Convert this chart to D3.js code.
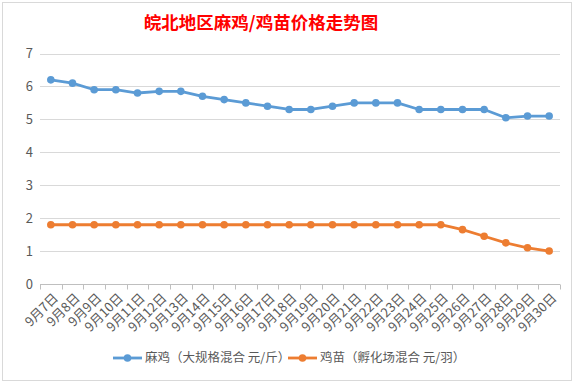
<!DOCTYPE html>
<html>
<head>
<meta charset="utf-8">
<script src="https://cdn.jsdelivr.net/npm/d3@7"></script>
<style>
  body { margin: 0; background: #fff; }
  svg { display: block; font-family: "Noto Sans CJK SC", "Noto Sans", sans-serif; }
</style>
</head>
<body>
<svg width="577" height="384"></svg>
<script>
const days = ["9月7日", "9月8日", "9月9日", "9月10日", "9月11日", "9月12日", "9月13日", "9月14日",
    "9月15日", "9月16日", "9月17日", "9月18日", "9月19日", "9月20日", "9月21日", "9月22日",
    "9月23日", "9月24日", "9月25日", "9月26日", "9月27日", "9月28日", "9月29日", "9月30日"];
const maji = [6.2, 6.1, 5.9, 5.9, 5.8, 5.85, 5.85, 5.7, 5.6, 5.5, 5.4, 5.3, 5.3, 5.4, 5.5, 5.5,
    5.5, 5.3, 5.3, 5.3, 5.3, 5.05, 5.1, 5.1];
const jimiao = [1.8, 1.8, 1.8, 1.8, 1.8, 1.8, 1.8, 1.8, 1.8, 1.8, 1.8, 1.8, 1.8, 1.8, 1.8, 1.8,
    1.8, 1.8, 1.8, 1.65, 1.45, 1.25, 1.1, 1.0];
const yTicks = [0, 1, 2, 3, 4, 5, 6, 7];
const seriesNames = ["麻鸡（大规格混合 元/斤）", "鸡苗（孵化场混合 元/羽）"];
const colors = ["#5B9BD5", "#ED7D31"];

const svg = d3.select("svg");

// chart border
svg.append("rect")
    .attr("x", 2.5).attr("y", 2.5)
    .attr("width", 569).attr("height", 378)
    .attr("fill", "#fff")
    .attr("stroke", "#D9D9D9");

svg.append("text")
    .attr("x", 261).attr("y", 29)
    .attr("text-anchor", "middle")
    .attr("fill", "#FF0000")
    .attr("font-size", 17.5)
    .attr("font-weight", "bold")
    .text("皖北地区麻鸡/鸡苗价格走势图");

const x = d3.scaleBand().domain(days).range([40, 560]);
const y = d3.scaleLinear().domain([0, 7]).range([284, 53.5]);

// gridlines
svg.append("g").selectAll("line")
    .data(yTicks.slice(1))
    .enter().append("line")
    .attr("x1", 40).attr("x2", 560)
    .attr("y1", function (d) { return Math.round(y(d)) + 0.5; })
    .attr("y2", function (d) { return Math.round(y(d)) + 0.5; })
    .attr("stroke", "#D9D9D9");

// y labels
svg.append("g").selectAll("text")
    .data(yTicks)
    .enter().append("text")
    .attr("x", 33)
    .attr("y", function (d) { return y(d); })
    .attr("dy", "0.35em")
    .attr("text-anchor", "end")
    .attr("fill", "#595959")
    .attr("font-size", 13)
    .text(function (d) { return d; });

// x axis
const xAxis = svg.append("g")
    .attr("transform", "translate(0," + (Math.round(y(0)) + 0.5) + ")");
xAxis.append("line")
    .attr("x1", 40).attr("x2", 560)
    .attr("stroke", "#BFBFBF");
xAxis.selectAll(".tk")
    .data(days.map(function (d) { return x(d); }).concat([560]))
    .enter().append("line")
    .attr("x1", function (d) { return Math.round(d) + 0.5; })
    .attr("x2", function (d) { return Math.round(d) + 0.5; })
    .attr("y1", 0).attr("y2", 5)
    .attr("stroke", "#BFBFBF");
xAxis.selectAll("text")
    .data(days)
    .enter().append("text")
    .attr("transform", function (d) {
        return "translate(" + (x(d) + x.bandwidth() / 2 + 5) + ",11) rotate(-45)";
    })
    .attr("text-anchor", "end")
    .attr("dy", "0.35em")
    .attr("fill", "#595959")
    .attr("font-size", 13)
    .text(function (d) { return d; });

// series
const series = [maji, jimiao];
const line = d3.line()
    .x(function (d, i) { return x(days[i]) + x.bandwidth() / 2; })
    .y(function (d) { return y(d); });

series.forEach(function (vals, k) {
    svg.append("path")
        .datum(vals)
        .attr("d", line)
        .attr("fill", "none")
        .attr("stroke", colors[k])
        .attr("stroke-width", 2.8)
        .attr("stroke-linejoin", "round");
    svg.append("g").selectAll("circle")
        .data(vals)
        .enter().append("circle")
        .attr("cx", function (d, i) { return x(days[i]) + x.bandwidth() / 2; })
        .attr("cy", function (d) { return y(d); })
        .attr("r", 3.8)
        .attr("fill", colors[k]);
});

// legend
const legendX = [113, 288];
const legend = svg.append("g").selectAll("g")
    .data(seriesNames)
    .enter().append("g")
    .attr("transform", function (d, i) { return "translate(" + legendX[i] + ",358)"; });
legend.append("line")
    .attr("x1", 0).attr("x2", 29)
    .attr("stroke", function (d, i) { return colors[i]; })
    .attr("stroke-width", 2.8);
legend.append("circle")
    .attr("cx", 14.5).attr("r", 3.8)
    .attr("fill", function (d, i) { return colors[i]; });
legend.append("text")
    .attr("x", 32)
    .attr("dy", "0.35em")
    .attr("fill", "#595959")
    .attr("font-size", 12.5)
    .text(function (d) { return d; });
</script>
</body>
</html>
